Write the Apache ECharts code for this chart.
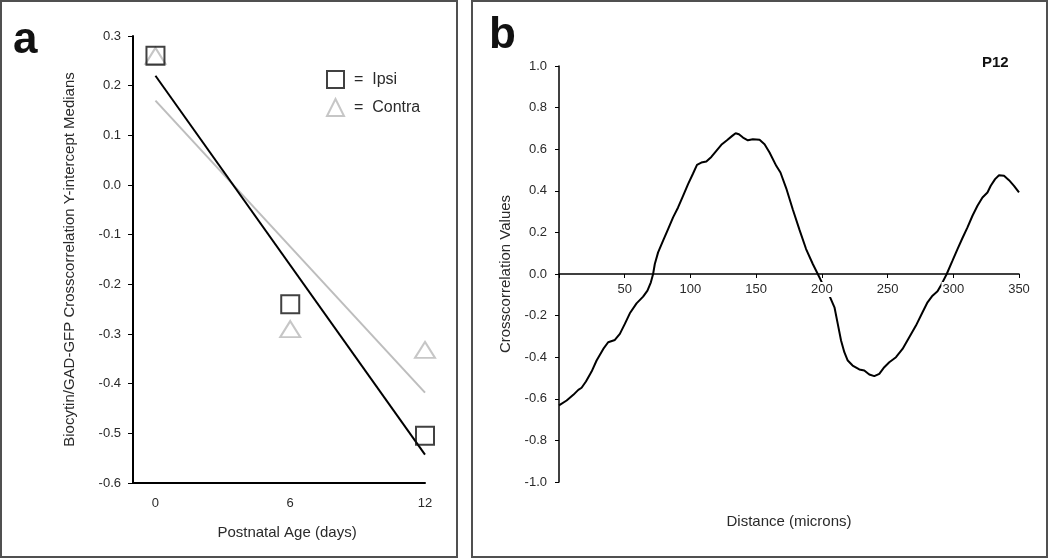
<!DOCTYPE html>
<html>
<head>
<meta charset="utf-8">
<script src="https://cdn.jsdelivr.net/npm/echarts@6/dist/echarts.min.js"></script>
<style>
html,body{margin:0;padding:0;background:#fff;}
#chart{width:1050px;height:560px;}
</style>
</head>
<body>
<div id="chart"></div>
<script>
// ---- Panel a data ----
const ageDays = [0, 6, 12];
const ipsiMedians = [0.26, -0.24, -0.505];
const contraMedians = [0.26, -0.29, -0.332];
const fitAges = [0, 12];
const ipsiFit = [0.22, -0.543];
const contraFit = [0.17, -0.418];
const ageTickLabels = [0, 6, 12];

// ---- Panel b data (P12) ----
const distanceMicrons = [0, 5.8, 10.9, 14.7, 17.2, 20.5, 24.8, 28.6, 33.7, 37.4, 42.5, 46.3, 50.1, 53.9, 59, 64, 67.3, 69.9, 71.6, 72.9, 75.4, 79.2, 83, 86.8, 90.6, 94.4, 98.2, 102, 105, 108.3, 112.1, 115.9, 119.7, 123.5, 127.8, 131.8, 134.4, 136.9, 140, 143.7, 147.5, 152.6, 156.4, 160.2, 165.3, 168.5, 172.9, 177.9, 183, 188, 193.1, 196.9, 200, 203, 206.3, 209.6, 212.1, 214.6, 217.1, 219.7, 223.4, 228.5, 232.3, 236.1, 239.9, 243.7, 247.5, 251.3, 256.4, 261.4, 266.5, 271.6, 276.6, 280.4, 284.2, 288, 291, 295, 299.4, 303.2, 307, 310.8, 314.6, 318.4, 322.2, 326, 328.5, 331.8, 334.8, 338.6, 342.4, 346.2, 350];
const crossCorrValues = [-0.632, -0.608, -0.581, -0.557, -0.547, -0.517, -0.469, -0.416, -0.360, -0.328, -0.317, -0.288, -0.240, -0.189, -0.141, -0.109, -0.080, -0.040, 0.0, 0.048, 0.104, 0.160, 0.216, 0.272, 0.320, 0.376, 0.432, 0.483, 0.525, 0.536, 0.541, 0.563, 0.592, 0.621, 0.643, 0.664, 0.677, 0.672, 0.656, 0.643, 0.648, 0.645, 0.624, 0.584, 0.520, 0.488, 0.412, 0.310, 0.212, 0.120, 0.048, 0.0, -0.040, -0.080, -0.112, -0.160, -0.240, -0.320, -0.376, -0.416, -0.440, -0.459, -0.464, -0.483, -0.491, -0.480, -0.448, -0.424, -0.400, -0.360, -0.304, -0.248, -0.184, -0.136, -0.104, -0.083, -0.050, 0.0, 0.064, 0.120, 0.173, 0.224, 0.280, 0.328, 0.368, 0.392, 0.424, 0.456, 0.475, 0.472, 0.451, 0.424, 0.392];
const distanceTickLabels = [50, 100, 150, 200, 250, 300, 350];

const FONT = '"Liberation Sans", Arial, sans-serif';
const TXT = '#2a2a2a';

const chart = echarts.init(document.getElementById('chart'), null, {renderer: 'canvas'});

const option = {
  backgroundColor: '#fff',
  animation: false,
  textStyle: {fontFamily: FONT},
  graphic: [
    {type: 'rect', shape: {x: 1, y: 1, width: 456, height: 556}, style: {fill: 'none', stroke: '#505050', lineWidth: 2}, silent: true},
    {type: 'rect', shape: {x: 472, y: 1, width: 575, height: 556}, style: {fill: 'none', stroke: '#505050', lineWidth: 2}, silent: true},
    {type: 'text', left: 13, top: 19, style: {text: 'a', font: 'bold 44px ' + FONT, fill: '#111'}},
    {type: 'text', left: 489, top: 14, style: {text: 'b', font: 'bold 44px ' + FONT, fill: '#111'}},
    {type: 'text', left: 982, top: 55, style: {text: 'P12', font: 'bold 15px ' + FONT, fill: '#111'}}
  ],
  legend: {
    data: ['Ipsi', 'Contra'],
    orient: 'vertical',
    left: 321,
    top: 65,
    itemWidth: 17,
    itemHeight: 17,
    itemGap: 9,
    formatter: '=  {name}',
    textStyle: {fontSize: 16, color: TXT, fontFamily: FONT, padding: [0, 0, 0, 5]}
  },
  grid: [
    {left: 133, top: 36, width: 292, height: 447, outerBoundsMode: 'none', containLabel: false},
    {left: 559, top: 66, width: 460, height: 416, outerBoundsMode: 'none', containLabel: false}
  ],
  xAxis: [
    {
      gridIndex: 0, type: 'value', min: -1, max: 12,
      name: 'Postnatal Age (days)', nameLocation: 'middle', nameGap: 42,
      nameTextStyle: {fontSize: 15, color: TXT, padding: [0, 0, 0, 16]},
      axisLine: {onZero: false, lineStyle: {color: '#000', width: 2}},
      axisTick: {show: false},
      splitLine: {show: false},
      axisLabel: {customValues: ageTickLabels, fontSize: 13, color: TXT, margin: 14}
    },
    {
      gridIndex: 1, type: 'value', min: 0, max: 350, interval: 50, z: 3,
      offset: -208,
      name: 'Distance (microns)', nameLocation: 'middle', nameGap: 240,
      nameTextStyle: {fontSize: 15, color: TXT},
      axisLine: {onZero: false, lineStyle: {color: '#000', width: 1.5}},
      axisTick: {length: 4, lineStyle: {color: '#000'}},
      splitLine: {show: false},
      axisLabel: {
        customValues: distanceTickLabels,
        fontSize: 13, color: TXT, margin: 8, backgroundColor: '#fff', padding: [1, 1, 1, 1]
      }
    }
  ],
  yAxis: [
    {
      gridIndex: 0, type: 'value', min: -0.6, max: 0.3, interval: 0.1,
      name: 'Biocytin/GAD-GFP Crosscorrelation Y-intercept Medians', nameLocation: 'middle', nameGap: 56,
      nameTextStyle: {fontSize: 15, color: TXT},
      axisLine: {onZero: false, lineStyle: {color: '#000', width: 2}},
      axisTick: {length: 5, lineStyle: {color: '#000'}},
      splitLine: {show: false},
      axisLabel: {fontSize: 13, color: TXT, margin: 12, formatter: function (v) { return v.toFixed(1); }}
    },
    {
      gridIndex: 1, type: 'value', min: -1, max: 1, interval: 0.2,
      name: 'Crosscorrelation Values', nameLocation: 'middle', nameGap: 46,
      nameTextStyle: {fontSize: 15, color: TXT},
      axisLine: {onZero: false, lineStyle: {color: '#000', width: 1.5}},
      axisTick: {length: 4, lineStyle: {color: '#000'}},
      splitLine: {show: false},
      axisLabel: {fontSize: 13, color: TXT, margin: 12, formatter: function (v) { return v.toFixed(1); }}
    }
  ],
  series: [
    {
      name: 'Contra fit', type: 'line', xAxisIndex: 0, yAxisIndex: 0,
      data: fitAges.map((a, i) => [a, contraFit[i]]),
      showSymbol: false, lineStyle: {color: '#bdbdbd', width: 2}, z: 2
    },
    {
      name: 'Ipsi fit', type: 'line', xAxisIndex: 0, yAxisIndex: 0,
      data: fitAges.map((a, i) => [a, ipsiFit[i]]),
      showSymbol: false, lineStyle: {color: '#000', width: 2}, z: 2
    },
    {
      name: 'Contra', type: 'scatter', xAxisIndex: 0, yAxisIndex: 0,
      data: ageDays.map((a, i) => [a, contraMedians[i]]),
      symbol: 'triangle', symbolSize: [20, 16],
      itemStyle: {color: 'rgba(255,255,255,0)', borderColor: '#b8b8b8', borderWidth: 2}, z: 3
    },
    {
      name: 'Ipsi', type: 'scatter', xAxisIndex: 0, yAxisIndex: 0,
      data: ageDays.map((a, i) => [a, ipsiMedians[i]]),
      symbol: 'rect', symbolSize: 18,
      itemStyle: {color: 'rgba(255,255,255,0)', borderColor: '#111', borderWidth: 2}, z: 4
    },
    {
      name: 'P12', type: 'line', xAxisIndex: 1, yAxisIndex: 1,
      data: distanceMicrons.map((d, i) => [d, crossCorrValues[i]]),
      showSymbol: false, lineStyle: {color: '#000', width: 2}, z: 2
    }
  ]
};
chart.setOption(option);
</script>
</body>
</html>
